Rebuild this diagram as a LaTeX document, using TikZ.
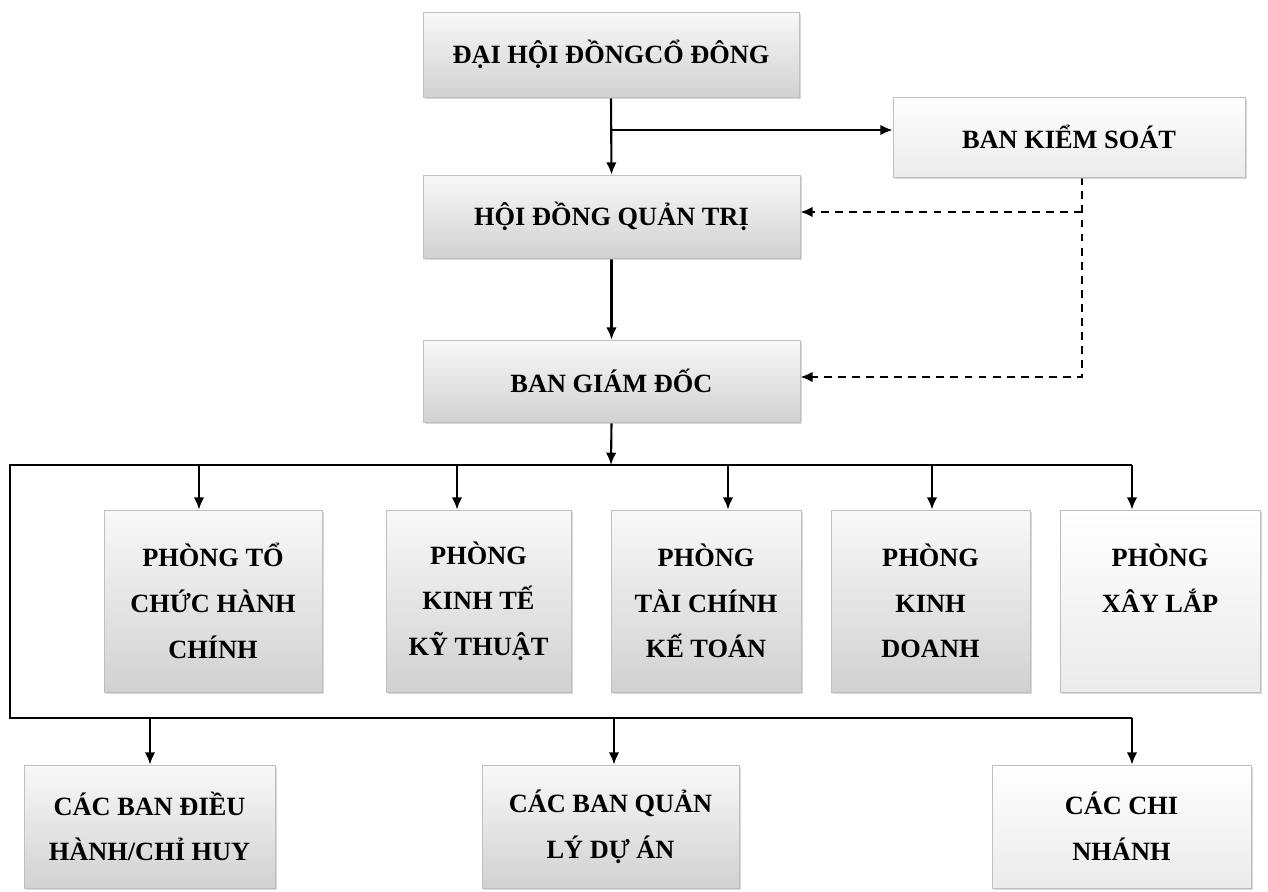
\documentclass[tikz,border=0pt]{standalone}
\usepackage{fontspec}
\setmainfont{Liberation Serif}
\usetikzlibrary{shadows}
\usetikzlibrary{arrows.meta}
\pgfdeclarelayer{edgelayer}
\pgfdeclarelayer{nodelayer}
\pgfsetlayers{edgelayer,nodelayer,main}
\tikzstyle{none}=[inner sep=0pt]
\tikzstyle{org_box}=[rectangle,align=center,font=\fontsize{15}{26}\selectfont\bfseries,top color=gray!5,bottom color=gray!36,draw=gray!50,line width=0.4pt,inner sep=2pt,drop shadow={shadow xshift=1pt,shadow yshift=-1pt,fill=gray!60}]
\tikzstyle{light_box}=[org_box,top color=white,bottom color=gray!16]
\tikzstyle{wire}=[draw=black,line width=1.2pt]
\tikzstyle{transition}=[-{Latex[length=7pt,width=6pt]},draw=black,line width=1.2pt]
\tikzstyle{control}=[-{Latex[length=7pt,width=6pt]},draw=black,line width=1.2pt,dash pattern=on 4.5pt off 3.5pt]

\begin{document}
\begin{tikzpicture}[x=0.02cm,y=-0.02cm]
	\useasboundingbox (0,0) rectangle (1268,892);
	\begin{pgfonlayer}{nodelayer}
		\node [style={org_box},minimum width=7.52cm,minimum height=1.70cm] (0) at (611, 54.5) {ĐẠI HỘI ĐỒNGCỔ ĐÔNG};
		\node [style={light_box},minimum width=7.04cm,minimum height=1.60cm] (1) at (1069, 137) {BAN KIỂM SOÁT};
		\node [style={org_box},minimum width=7.54cm,minimum height=1.66cm] (2) at (611.5, 216.5) {HỘI ĐỒNG QUẢN TRỊ};
		\node [style={org_box},minimum width=7.54cm,minimum height=1.64cm] (3) at (611.5, 381) {BAN GIÁM ĐỐC};
		\node [style={org_box},minimum width=4.36cm,minimum height=3.64cm] (4) at (213, 601) {PHÒNG TỔ\\CHỨC HÀNH\\CHÍNH};
		\node [style={org_box},minimum width=3.70cm,minimum height=3.64cm] (5) at (478.5, 601) {PHÒNG\\KINH TẾ\\KỸ THUẬT};
		\node [style={org_box},minimum width=3.80cm,minimum height=3.64cm] (6) at (706, 601) {PHÒNG\\TÀI CHÍNH\\KẾ TOÁN};
		\node [style={org_box},minimum width=3.98cm,minimum height=3.64cm] (7) at (930.5, 601) {PHÒNG\\KINH\\DOANH};
		\node [style={light_box},minimum width=4.00cm,minimum height=3.64cm] (8) at (1160, 601) {PHÒNG\\XÂY LẮP\\~};
		\node [style={org_box},minimum width=5.02cm,minimum height=2.46cm] (9) at (149.5, 826.5) {CÁC BAN ĐIỀU\\HÀNH/CHỈ HUY};
		\node [style={org_box},minimum width=5.14cm,minimum height=2.46cm] (10) at (610.5, 826.5) {CÁC BAN QUẢN\\LÝ DỰ ÁN};
		\node [style={light_box},minimum width=5.18cm,minimum height=2.46cm] (11) at (1121.5, 826.5) {CÁC CHI\\NHÁNH};
		\coordinate [style=none] (j0) at (611, 130);
		\coordinate [style=none] (d0) at (1082, 212);
		\coordinate [style=none] (d1) at (1082, 377);
		\coordinate [style=none] (b0) at (611, 465);
		\coordinate [style=none] (bl1) at (10, 465);
		\coordinate [style=none] (bl2) at (10, 718);
		\coordinate [style=none] (t4) at (199, 465);
		\coordinate [style=none] (t5) at (457, 465);
		\coordinate [style=none] (t6) at (728, 465);
		\coordinate [style=none] (t7) at (932, 465);
		\coordinate [style=none] (t8) at (1132, 465);
		\coordinate [style=none] (t9) at (150, 718);
		\coordinate [style=none] (t10) at (614, 718);
		\coordinate [style=none] (t11) at (1132, 718);
	\end{pgfonlayer}
	\begin{pgfonlayer}{edgelayer}
		\draw [style=transition] (0.south) -- (2.north);
		\draw [style=transition] (j0) -- (1.west |- j0);
		\draw [style=control] (1.south -| d1) -- (d1) -- (3.east |- d1);
		\draw [style=control] (d0) -- (2.east |- d0);
		\draw [style=transition] (2.south) -- (3.north);
		\draw [style=transition] (3.south) -- (b0);
		\draw [style=wire] (t8) -- (bl1) -- (bl2) -- (t11);
		\draw [style=transition] (t4) -- (t4 |- 4.north);
		\draw [style=transition] (t5) -- (t5 |- 5.north);
		\draw [style=transition] (t6) -- (t6 |- 6.north);
		\draw [style=transition] (t7) -- (t7 |- 7.north);
		\draw [style=transition] (t8) -- (t8 |- 8.north);
		\draw [style=transition] (t9) -- (t9 |- 9.north);
		\draw [style=transition] (t10) -- (t10 |- 10.north);
		\draw [style=transition] (t11) -- (t11 |- 11.north);
	\end{pgfonlayer}
\end{tikzpicture}
\end{document}
